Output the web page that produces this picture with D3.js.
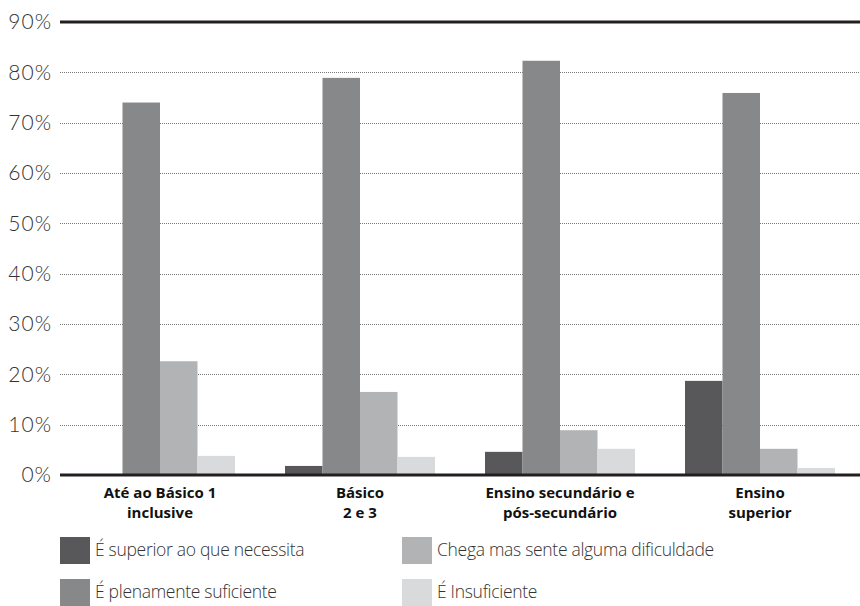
<!DOCTYPE html>
<html>
<head>
<meta charset="utf-8">
<script src="https://cdn.jsdelivr.net/npm/d3@7"></script>
<style>
  body { margin: 0; background: #fff; }
  svg { display: block; }
</style>
</head>
<body>
<svg id="chart"></svg>
<script>
const categories = [["Até ao Básico 1", "inclusive"], ["Básico", "2 e 3"], ["Ensino secundário e", "pós-secundário"], ["Ensino", "superior"]]
const seriesNames = ["É superior ao que necessita", "É plenamente suficiente", "Chega mas sente alguma dificuldade", "É Insuficiente"]
const superior = [0, 1.8, 4.6, 18.7]
const plenamente = [74.0, 78.9, 82.3, 75.9]
const chega = [22.6, 16.5, 8.9, 5.2]
const insuficiente = [3.8, 3.6, 5.2, 1.4]
const yTicks = [0, 10, 20, 30, 40, 50, 60, 70, 80, 90]

const colors = ["#58585a", "#878889", "#b2b3b4", "#d9dadb"]
const series = [superior, plenamente, chega, insuficiente]

const width = 860,
    height = 606,
    margin = { top: 22, right: 0, bottom: 131, left: 60 }

const svg = d3.select("#chart")
    .attr("width", width)
    .attr("height", height)

const x = d3.scaleBand()
    .domain(d3.range(categories.length))
    .range([margin.left, width - margin.right])
    .paddingInner(0.25)
    .paddingOuter(0.125)

const xInner = d3.scaleBand()
    .domain(d3.range(series.length))
    .range([0, x.bandwidth()])

const y = d3.scaleLinear()
    .domain([0, 90])
    .range([height - margin.bottom, margin.top])

// gridlines
svg.append("g")
    .selectAll("line")
    .data(yTicks.filter(t => t > 0 && t < 90))
    .join("line")
    .attr("x1", margin.left)
    .attr("x2", width)
    .attr("y1", d => Math.round(y(d)) + 0.5)
    .attr("y2", d => Math.round(y(d)) + 0.5)
    .attr("stroke", "#777")
    .attr("stroke-dasharray", "1,1")

// tick labels
svg.append("g")
    .selectAll("text")
    .data(yTicks)
    .join("text")
    .attr("x", 52)
    .attr("y", d => y(d))
    .attr("dy", "0.35em")
    .attr("text-anchor", "end")
    .attr("font-family", "Lato")
    .attr("font-weight", 300)
    .attr("font-size", 21)
    .attr("letter-spacing", 1)
    .attr("fill", "#333")
    .text(d => d + "%")

// bars
const groups = svg.append("g")
    .selectAll("g")
    .data(categories)
    .join("g")
    .attr("transform", (d, i) => `translate(${x(i)},0)`)

groups.selectAll("rect")
    .data((d, i) => series.map((s, j) => ({ j, v: s[i] })))
    .join("rect")
    .attr("x", d => xInner(d.j))
    .attr("width", xInner.bandwidth())
    .attr("y", d => y(d.v))
    .attr("height", d => y(0) - y(d.v))
    .attr("fill", d => colors[d.j])

// top and baseline
svg.append("line")
    .attr("x1", margin.left).attr("x2", width)
    .attr("y1", y(90)).attr("y2", y(90))
    .attr("stroke", "#231f20").attr("stroke-width", 3)
svg.append("line")
    .attr("x1", margin.left).attr("x2", width)
    .attr("y1", y(0)).attr("y2", y(0))
    .attr("stroke", "#231f20").attr("stroke-width", 3)

// category labels, two lines each
const catGroups = svg.append("g")
    .selectAll("g")
    .data(categories)
    .join("g")
    .attr("transform", (d, i) => `translate(${x(i) + x.bandwidth() / 2},0)`)

catGroups.selectAll("text")
    .data(d => d)
    .join("text")
    .attr("y", (d, i) => 498 + i * 20)
    .attr("text-anchor", "middle")
    .attr("font-family", "Open Sans")
    .attr("font-weight", 700)
    .attr("font-size", 15)
    .attr("fill", "#111")
    .text(d => d)

// legend
const legendPos = [[60, 537], [60, 579], [402, 537], [402, 579]]
const legend = svg.append("g")
    .selectAll("g")
    .data(seriesNames)
    .join("g")
    .attr("transform", (d, i) => `translate(${legendPos[i][0]},${legendPos[i][1]})`)

legend.append("rect")
    .attr("width", 30)
    .attr("height", 27)
    .attr("fill", (d, i) => colors[i])

legend.append("text")
    .attr("x", 35)
    .attr("y", 19)
    .attr("font-family", "Open Sans")
    .attr("font-weight", 300)
    .attr("font-size", 17.5)
    .attr("letter-spacing", -0.3)
    .attr("fill", "#333")
    .text(d => d)
</script>
</body>
</html>
